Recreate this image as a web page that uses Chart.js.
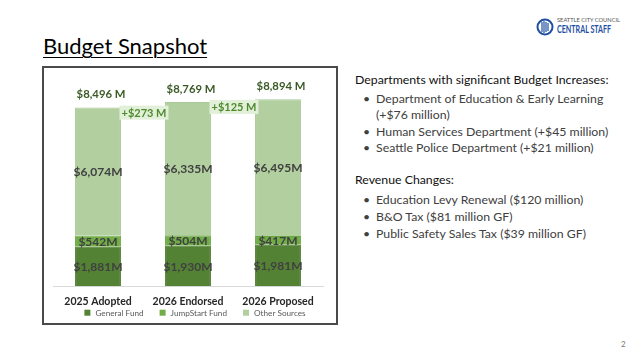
<!DOCTYPE html>
<html><head><meta charset="utf-8">
<script src="https://cdn.jsdelivr.net/npm/chart.js@4/dist/chart.umd.min.js"></script>
<style>
body{margin:0;width:640px;height:360px;position:relative;background:#fff;font-family:Lato,"Open Sans",sans-serif;overflow:hidden}
.abs{position:absolute;white-space:nowrap}
#title{left:43px;top:32px;font-size:22px;color:#000;text-decoration:underline;text-underline-offset:3px;text-decoration-thickness:1px}
#box{left:42px;top:66px;width:292px;height:255px;border:2px solid #4a4a4a}
.h{font-size:12.3px;color:#111}
.b{font-size:12.3px;color:#404040}
.dot{font-size:12.3px;color:#404040}
</style></head>
<body>
<div class="abs" id="title">Budget Snapshot</div>
<svg class="abs" style="left:536px;top:18px" width="18" height="18" viewBox="0 0 18 18">
<circle cx="9" cy="9" r="7.5" fill="none" stroke="#1f4fa3" stroke-width="2"/>
<path d="M6 4v10M8 3v12M10 4v10M12 5v8" stroke="#1f4fa3" stroke-width="1.2"/>
</svg>
<div class="abs" style="left:557px;top:16px;font-size:6px;color:#555;transform:scaleX(0.95);transform-origin:left">SEATTLE CITY COUNCIL</div>
<div class="abs" style="left:557px;top:23px;font-size:10.5px;font-weight:bold;color:#1f4fa3;transform:scaleX(0.68);transform-origin:left">CENTRAL STAFF</div>
<div class="abs" id="box"></div>
<canvas id="c" width="291" height="254" class="abs" style="left:45px;top:69px"></canvas>

<div class="abs h" style="left:355px;top:72px">Departments with significant Budget Increases:</div>
<div class="abs dot" style="left:363px;top:91px">•</div>
<div class="abs b" style="left:376px;top:91px">Department of Education &amp; Early Learning</div>
<div class="abs b" style="left:376px;top:107px">(+$76 million)</div>
<div class="abs dot" style="left:363px;top:124px">•</div>
<div class="abs b" style="left:376px;top:124px">Human Services Department (+$45 million)</div>
<div class="abs dot" style="left:363px;top:140px">•</div>
<div class="abs b" style="left:376px;top:140px">Seattle Police Department (+$21 million)</div>
<div class="abs h" style="left:355px;top:172px">Revenue Changes:</div>
<div class="abs dot" style="left:363px;top:192px">•</div>
<div class="abs b" style="left:376px;top:192px">Education Levy Renewal ($120 million)</div>
<div class="abs dot" style="left:363px;top:209px">•</div>
<div class="abs b" style="left:376px;top:209px">B&amp;O Tax ($81 million GF)</div>
<div class="abs dot" style="left:363px;top:226px">•</div>
<div class="abs b" style="left:376px;top:226px">Public Safety Sales Tax ($39 million GF)</div>
<div class="abs" style="left:621px;top:339px;font-size:8px;color:#777">2</div>

<script>
const categories = ['2025 Adopted', '2026 Endorsed', '2026 Proposed'];
const generalFund = [1881, 1930, 1981];
const jumpStartFund = [542, 504, 417];
const otherSources = [6074, 6335, 6495];
const totals = [8496, 8769, 8894];
const changes = [273, 125];
const seriesNames = ['General Fund', 'JumpStart Fund', 'Other Sources'];
const seriesColors = ['#548235', '#70ad47', '#b2cfa0'];

const fmt = v => '$' + v.toLocaleString('en-US');

const labelPlugin = {
  id: 'labels',
  afterDatasetsDraw(chart) {
    const ctx = chart.ctx;
    const y = chart.scales.y;
    ctx.save();
    ctx.textAlign = 'center';
    ctx.textBaseline = 'middle';
    ctx.font = 'bold 12px Lato';
    ctx.fillStyle = '#404040';
    chart.data.datasets.forEach((ds, di) => {
      chart.getDatasetMeta(di).data.forEach((bar, i) => {
        ctx.fillText(fmt(ds.data[i]) + 'M', bar.x, (bar.y + bar.base) / 2 + 1);
      });
    });
    const meta = chart.getDatasetMeta(0).data;
    ctx.font = 'bold 11.3px Lato';
    ctx.fillStyle = '#3b5a26';
    totals.forEach((t, i) => {
      ctx.fillText(fmt(t) + ' M', meta[i].x + 3, y.getPixelForValue(t) - 13);
    });
    ctx.font = 'bold 11px Lato';
    changes.forEach((c, i) => {
      const b1 = meta[i], b2 = meta[i + 1];
      const cx = (b1.x + b1.width / 2 + b2.x - b2.width / 2) / 2 + 1;
      const cy = y.getPixelForValue(totals[i]) + 5;
      const txt = '+' + fmt(c) + ' M';
      const w = ctx.measureText(txt).width + 4;
      ctx.fillStyle = '#e2f0d9';
      ctx.fillRect(cx - w / 2, cy - 7, w, 14);
      ctx.fillStyle = '#4f8a2e';
      ctx.fillText(txt, cx, cy + 1);
    });
    // legend row
    ctx.font = '8.2px Lato';
    ctx.textAlign = 'left';
    const gap = 16, box = 6, bgap = 5;
    const widths = seriesNames.map(n => box + bgap + ctx.measureText(n).width);
    const total = widths.reduce((a, b) => a + b, 0) + gap * (widths.length - 1);
    let x = (chart.chartArea.left + chart.chartArea.right) / 2 + 7 - total / 2;
    const ly = 243.7;
    seriesNames.forEach((n, i) => {
      ctx.fillStyle = seriesColors[i];
      ctx.fillRect(x, ly - box / 2, box, box);
      ctx.fillStyle = '#595959';
      ctx.fillText(n, x + box + bgap, ly + 0.5);
      x += widths[i] + gap;
    });
    ctx.restore();
  }
};

new Chart(document.getElementById('c'), {
  type: 'bar',
  data: {
    labels: categories,
    datasets: [
      { label: seriesNames[0], data: generalFund, backgroundColor: seriesColors[0], borderColor: '#4d7a30', borderWidth: 1 },
      { label: seriesNames[1], data: jumpStartFund, backgroundColor: seriesColors[1], borderColor: '#69a342', borderWidth: 1 },
      { label: seriesNames[2], data: otherSources, backgroundColor: seriesColors[2], borderColor: '#a9c996', borderWidth: 1 }
    ]
  },
  options: {
    responsive: false,
    devicePixelRatio: 1,
    animation: false,
    layout: { padding: { left: 8, right: 13, top: 7, bottom: 7 } },
    datasets: { bar: { categoryPercentage: 1, barPercentage: 0.51 } },
    scales: {
      x: {
        stacked: true,
        grid: { display: false, drawTicks: false },
        border: { display: true, color: '#d9d9d9', width: 1 },
        ticks: { font: { family: 'Lato', size: 10.5, weight: 'bold', lineHeight: 1.3 }, color: '#262626', padding: 8 }
      },
      y: {
        stacked: true, display: false, min: 0, max: 10000
      }
    },
    plugins: {
      tooltip: { enabled: false },
      legend: { display: false }
    }
  },
  plugins: [labelPlugin]
});
</script>
</body></html>
